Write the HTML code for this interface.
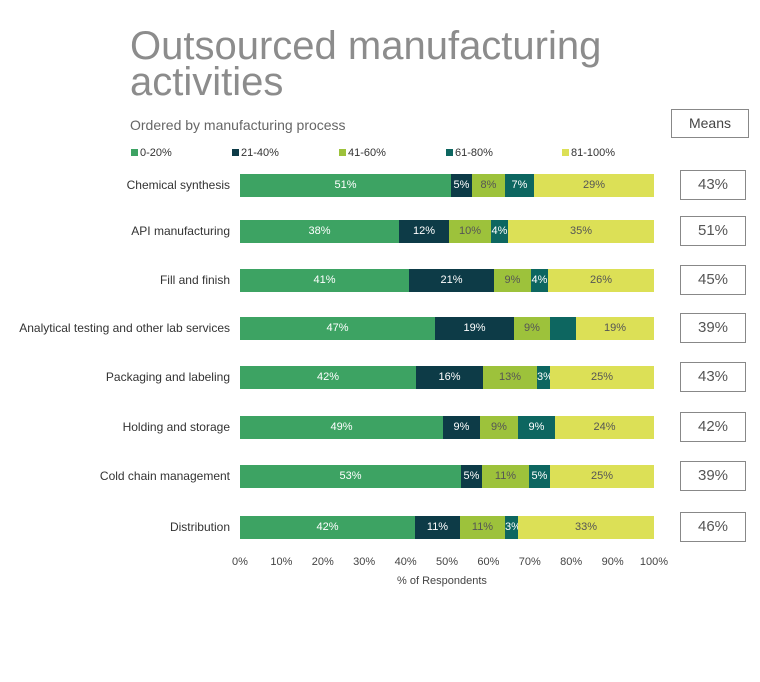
<!DOCTYPE html><html><head><style>
body{margin:0;width:760px;height:682px;background:#fff;font-family:"Liberation Sans",sans-serif;position:relative;overflow:hidden}
div{position:absolute}
.t{left:130px;color:#8c8c8c;font-size:40px;line-height:40px;white-space:nowrap}
.lab{right:530px;font-size:12px;color:#333;text-align:right;white-space:nowrap}
.s{height:23px;font-size:11px;line-height:23px;text-align:center;color:#fff;overflow:hidden}
.m{left:680px;width:64px;height:28px;border:1px solid #888;font-size:15px;line-height:28px;text-align:center;color:#555}
.tk{font-size:11px;color:#444;width:40px;text-align:center}
.lg{font-size:11px;color:#333;white-space:nowrap}
.lg span{display:inline-block;width:7px;height:7px;margin-right:2px}
</style></head><body>
<div class="t" style="top:26px">Outsourced manufacturing</div>
<div class="t" style="top:62px">activities</div>
<div style="left:130px;top:117px;font-size:14px;color:#666">Ordered by manufacturing process</div>
<div style="left:671px;top:109px;width:76px;height:27px;border:1px solid #888;font-size:14px;line-height:27px;text-align:center;color:#444">Means</div>
<div class="lg" style="left:131px;top:147px"><span style="background:#3da363"></span>0-20%</div>
<div class="lg" style="left:232px;top:147px"><span style="background:#0d3b47"></span>21-40%</div>
<div class="lg" style="left:339px;top:147px"><span style="background:#9dc23b"></span>41-60%</div>
<div class="lg" style="left:446px;top:147px"><span style="background:#0d6660"></span>61-80%</div>
<div class="lg" style="left:562px;top:147px"><span style="background:#dce056"></span>81-100%</div>
<div id="c" style="left:0;top:0;width:760px;height:682px"></div>
<script>
var rows=[["Chemical synthesis",174,[451,472,505,534,654],["51%","5%","8%","7%","29%"],"43%"],
["API manufacturing",220,[399,449,491,508,654],["38%","12%","10%","4%","35%"],"51%"],
["Fill and finish",269,[409,494,531,548,654],["41%","21%","9%","4%","26%"],"45%"],
["Analytical testing and other lab services",317,[435,514,550,576,654],["47%","19%","9%","","19%"],"39%"],
["Packaging and labeling",366,[416,483,537,550,654],["42%","16%","13%","3%","25%"],"43%"],
["Holding and storage",416,[443,480,518,555,654],["49%","9%","9%","9%","24%"],"42%"],
["Cold chain management",465,[461,482,529,550,654],["53%","5%","11%","5%","25%"],"39%"],
["Distribution",516,[415,460,505,518,654],["42%","11%","11%","3%","33%"],"46%"]];
var cols=["#3da363","#0d3b47","#9dc23b","#0d6660","#dce056"],tc=["#fff","#fff","#555","#fff","#555"];
var h="";
rows.forEach(function(r){var y=r[1],x=240;
h+='<div class="lab" style="top:'+(y+4)+'px">'+r[0]+'</div>';
for(var i=0;i<5;i++){h+='<div class="s" style="left:'+x+'px;top:'+y+'px;width:'+(r[2][i]-x)+'px;background:'+cols[i]+';color:'+tc[i]+'">'+r[3][i]+'</div>';x=r[2][i];}
h+='<div class="m" style="top:'+(y-4)+'px">'+r[4]+'</div>';});
for(var k=0;k<=10;k++){h+='<div class="tk" style="left:'+(220+k*41.4)+'px;top:556px">'+(k*10)+'%</div>';}
h+='<div style="left:397px;top:575px;font-size:11px;color:#444;white-space:nowrap">% of Respondents</div>';
document.getElementById("c").innerHTML=h;
</script>
</body></html>
